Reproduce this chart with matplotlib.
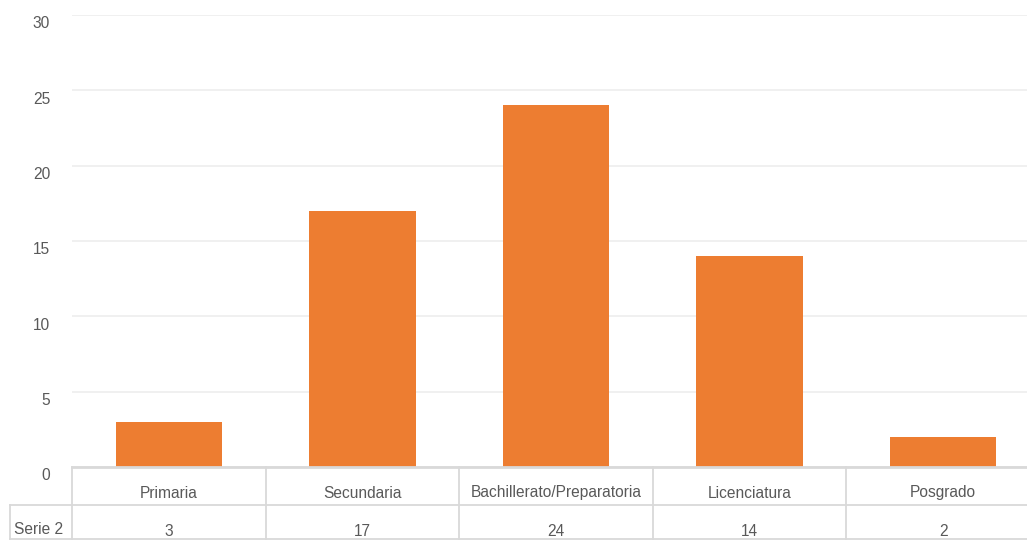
import matplotlib.pyplot as plt
import matplotlib.transforms as mtransforms

plt.rcParams['font.family'] = ['Liberation Sans', 'DejaVu Sans']

categorias = ['Primaria', 'Secundaria', 'Bachillerato/Preparatoria', 'Licenciatura', 'Posgrado']
serie2 = [3, 17, 24, 14, 2]
serie_nombre = 'Serie 2'
yticks = [0, 5, 10, 15, 20, 25, 30]

W, H = 1027, 540
fig = plt.figure(figsize=(W / 100, H / 100), dpi=100)

# plot area in pixels (left, top, right, bottom); the right end runs past the image
x0, y_top, x1, y_axis = 72, 15, 1040, 467
ax = fig.add_axes([x0 / W, 1 - y_axis / H, (x1 - x0) / W, (y_axis - y_top) / H])

txt = '#595959'
line = '#D9D9D9'
fs = 11.2

ax.bar(range(len(categorias)), serie2, width=0.55, color='#ED7D31', zorder=3)
ax.set_xlim(-0.5, len(categorias) - 0.5)
ax.set_ylim(0, 30)

for s in ax.spines.values():
    s.set_visible(False)
ax.set_xticks([])
ax.set_yticks(yticks)
ax.set_yticklabels([])
ax.tick_params(axis='y', length=0)
ax.yaxis.grid(True, color='#F0F0F0', lw=1.4, zorder=0)
ax.axhline(0, color=line, lw=2, zorder=4, clip_on=False)

# y labels sit a little below their gridlines
off = mtransforms.offset_copy(ax.get_yaxis_transform(), fig=fig, x=-22, y=-9, units='dots')
for v in yticks:
    ax.text(0, v, str(v), transform=off, ha='right', va='center', fontsize=fs, color=txt)

# data table under the plot
trans = mtransforms.blended_transform_factory(ax.transData, fig.transFigure)
def fy(py):
    return 1 - py / H

r_mid, r_bot = 505, 539
for i in range(len(categorias) + 1):
    ax.plot([i - 0.5, i - 0.5], [fy(y_axis), fy(r_bot)], color=line, lw=1.3,
            transform=trans, clip_on=False)
ax.plot([-0.5, len(categorias)], [fy(r_mid), fy(r_mid)], color=line, lw=1.3,
        transform=trans, clip_on=False)
ax.plot([-0.5, len(categorias)], [fy(r_bot), fy(r_bot)], color=line, lw=1.3,
        transform=trans, clip_on=False)

# row header box
fig.add_artist(plt.Line2D([10 / W, x0 / W], [fy(r_mid), fy(r_mid)], color=line, lw=1.3))
fig.add_artist(plt.Line2D([10 / W, 10 / W], [fy(r_mid), fy(r_bot)], color=line, lw=1.3))
fig.add_artist(plt.Line2D([10 / W, x0 / W], [fy(r_bot), fy(r_bot)], color=line, lw=1.3))
fig.text(14 / W, fy(530), serie_nombre, ha='left', va='center', fontsize=fs, color=txt)

for i, (c, v) in enumerate(zip(categorias, serie2)):
    ax.text(i, fy(493), c, transform=trans, ha='center', va='center', fontsize=fs, color=txt)
    ax.text(i, fy(531), str(v), transform=trans, ha='center', va='center', fontsize=fs, color=txt)

fig.savefig('out.png', dpi=100)
